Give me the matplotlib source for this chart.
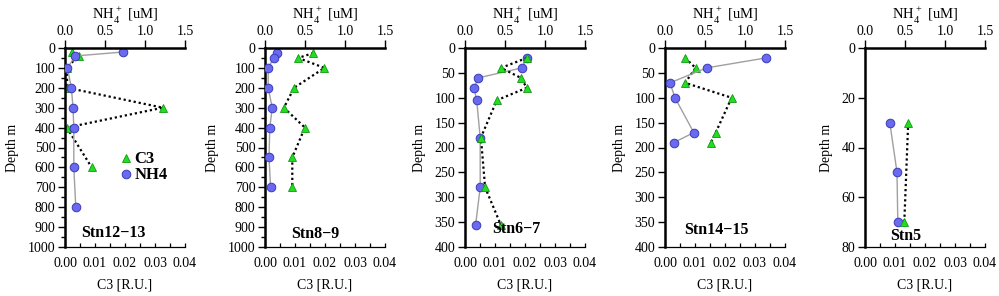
import matplotlib
matplotlib.use("Agg")
import matplotlib.pyplot as plt
from matplotlib.ticker import MultipleLocator

plt.rcParams['font.family'] = ['Liberation Serif', 'DejaVu Serif']
plt.rcParams['mathtext.fontset'] = 'custom'
plt.rcParams['mathtext.rm'] = 'Liberation Serif'

# station names
stations = ["Stn12\u221213", "Stn8\u22129", "Stn6\u22127", "Stn14\u221215", "Stn5"]

# NH4+ (uM), top axis
nh4_depth = [
    [20, 40, 100, 200, 300, 400, 600, 800],
    [25, 50, 100, 200, 300, 400, 550, 700],
    [20, 40, 60, 80, 105, 180, 280, 355],
    [20, 40, 70, 100, 170, 190],
    [30, 50, 70],
]
nh4_val = [
    [0.73, 0.13, 0.03, 0.08, 0.10, 0.11, 0.11, 0.135],
    [0.155, 0.11, 0.04, 0.04, 0.09, 0.06, 0.05, 0.07],
    [0.77, 0.71, 0.167, 0.112, 0.146, 0.19, 0.19, 0.133],
    [1.26, 0.52, 0.062, 0.125, 0.36, 0.112],
    [0.31, 0.40, 0.41],
]

# C3 (R.U.), bottom axis
c3_depth = [
    [20, 40, 100, 200, 300, 400, 600],
    [25, 50, 100, 200, 300, 400, 550, 700],
    [20, 40, 60, 80, 105, 180, 280, 355],
    [20, 40, 70, 100, 170, 190],
    [30, 70],
]
c3_val = [
    [0.0022, 0.0045, 0.0005, 0.0008, 0.0326, 0.0006, 0.0089],
    [0.0161, 0.0111, 0.0198, 0.0097, 0.0063, 0.0133, 0.0091, 0.0091],
    [0.0206, 0.0120, 0.0186, 0.0206, 0.0106, 0.0053, 0.0067, 0.0119],
    [0.0067, 0.0102, 0.0067, 0.0222, 0.0169, 0.0153],
    [0.0144, 0.0131],
]

depth_max = [1000, 1000, 400, 400, 80]
depth_step = [100, 100, 50, 50, 20]
depth_minor = [50, 50, None, None, None]
c3_on_top = [False, False, True, False, True]
label_pos = [(0.40, 0.07), (0.42, 0.065), (0.425, 0.09), (0.43, 0.085), (0.34, 0.055)]

fig = plt.figure(figsize=(9.99, 2.96), dpi=100)

lefts = [65, 265, 465, 665, 865]
for i in range(5):
    ax = fig.add_axes([lefts[i] / 999, 1 - 247 / 296, 120 / 999, 199 / 296])
    ax2 = ax.twiny()

    # C3 on bottom axis
    l1, = ax.plot(c3_val[i], c3_depth[i], linestyle=(0, (1, 1.3)), color='black', lw=1.6,
                  marker='^', ms=5.5, mfc='#22dd22', mec='#119911', mew=0.6, label='C3')
    # NH4 on top axis
    l2, = ax2.plot(nh4_val[i], nh4_depth[i], '-', color='#a0a0a0', lw=1.0,
                   marker='o', ms=6.2, mfc='#6a6af0', mec='#3a3ab8', mew=0.7, label='NH4')

    if c3_on_top[i]:
        ax.set_zorder(ax2.get_zorder() + 1)
        ax.patch.set_visible(False)

    ax.set_xlim(0, 0.04)
    ax2.set_xlim(0, 1.5)
    ax.set_ylim(depth_max[i], 0)

    ax.set_xticks([0, 0.01, 0.02, 0.03, 0.04])
    ax.set_xticklabels(["0.00", "0.01", "0.02", "0.03", "0.04"])
    ax.xaxis.set_minor_locator(MultipleLocator(0.005))
    ax2.set_xticks([0, 0.5, 1.0, 1.5])
    ax2.set_xticklabels(["0.0", "0.5", "1.0", "1.5"])
    ax.yaxis.set_major_locator(MultipleLocator(depth_step[i]))
    if depth_minor[i]:
        ax.yaxis.set_minor_locator(MultipleLocator(depth_minor[i]))

    for a in (ax, ax2):
        a.spines['right'].set_visible(False)
    ax.spines['top'].set_visible(False)
    ax2.spines['bottom'].set_visible(False)
    ax2.spines['left'].set_visible(False)
    ax.spines['left'].set_linewidth(1.8)
    ax2.spines['top'].set_linewidth(1.8)
    ax.spines['bottom'].set_linewidth(0.9)

    ax.tick_params(axis='y', which='major', direction='out', length=5, width=1, labelsize=10, pad=2)
    ax.tick_params(axis='y', which='minor', direction='out', length=3, width=1)
    ax.tick_params(axis='x', which='both', direction='in', length=3, width=0.9, labelsize=10, pad=7)
    ax2.tick_params(axis='x', which='major', direction='out', length=6, width=1, labelsize=10, pad=1.5)

    ax.set_xlabel("C3 [R.U.]", fontsize=10, labelpad=6)
    ax2.set_xlabel("NH$_4^+$ [uM]", fontsize=10.5, labelpad=4)
    ax.set_ylabel("Depth m", fontsize=10, labelpad=6)

    ax.text(label_pos[i][0], label_pos[i][1], stations[i], transform=ax.transAxes,
            ha='center', va='center', fontsize=11.5, fontweight='bold', zorder=10)

    if i == 0:
        leg = ax2.legend([l1, l2], ['C3', 'NH4'], loc='center left',
                         bbox_to_anchor=(0.47, 0.40), frameon=False,
                         prop={'weight': 'bold', 'size': 12}, handlelength=0.6,
                         handletextpad=0.2, labelspacing=0.0, borderpad=0,
                         borderaxespad=0)
        for h in leg.legend_handles:
            h.set_linestyle('none')

fig.savefig("out.png", dpi=100)
